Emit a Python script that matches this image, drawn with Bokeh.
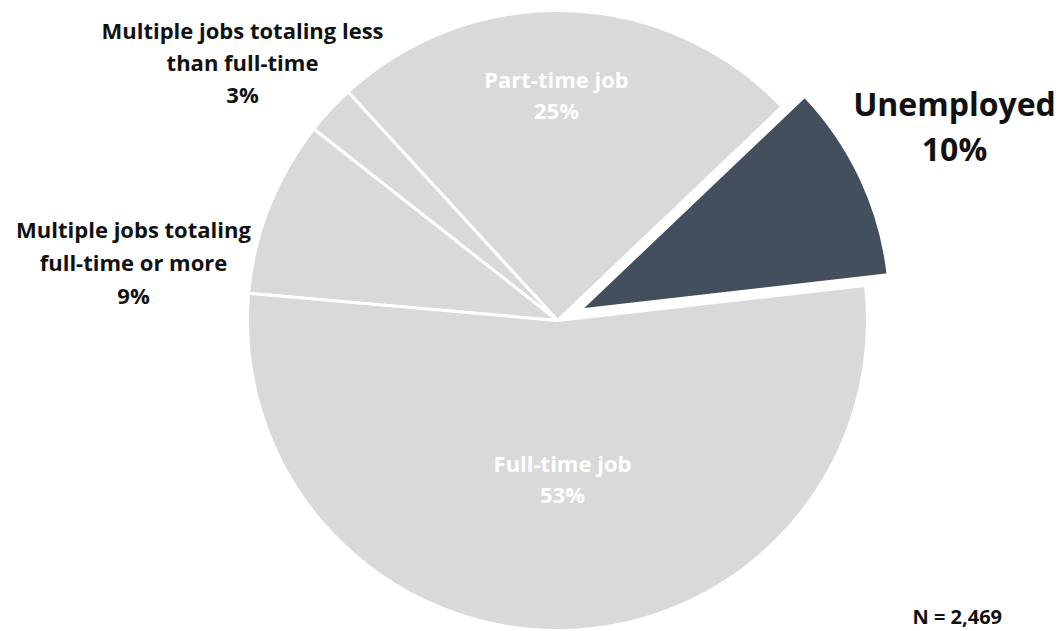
import math
from bokeh.plotting import figure
from bokeh.models import ColumnDataSource, Range1d
from bokeh.core.properties import value
from bokeh.embed import file_html
from bokeh.resources import INLINE

# ---- data ----
categories = ["Unemployed", "Part-time job", "Multiple jobs totaling less\nthan full-time",
              "Multiple jobs totaling\nfull-time or more", "Full-time job"]
shares = [10.3, 24.7, 2.6, 9.2, 53.2]
pct_labels = ["10%", "25%", "3%", "9%", "53%"]
note = "N = 2,469"

# ---- layout / style ----
W, H = 1058, 631
cx, cy_px, R = 557, 320, 310
start_deg = 6.5
explode = [25, 0, 0, 0, 0]
colors = ["#434F5D", "#D9D9D9", "#D9D9D9", "#D9D9D9", "#D9D9D9"]

def Y(py):
    return H - py

p = figure(width=W, height=H, output_backend="svg", toolbar_location=None,
           x_range=Range1d(0, W), y_range=Range1d(0, H), min_border=0)
p.axis.visible = False
p.grid.visible = False
p.outline_line_color = None
p.background_fill_color = "white"
p.border_fill_color = "white"

total = sum(shares)
xs, ys, sa, ea = [], [], [], []
a = math.radians(start_deg)
for s, ex in zip(shares, explode):
    span = 2 * math.pi * s / total
    mid = a + span / 2
    xs.append(cx + ex * math.cos(mid))
    ys.append(Y(cy_px) + ex * math.sin(mid))
    sa.append(a)
    ea.append(a + span)
    a += span

src = ColumnDataSource(dict(x=xs, y=ys, s=sa, e=ea, c=colors))
p.wedge(x="x", y="y", radius=R, start_angle="s", end_angle="e", source=src,
        fill_color="c", line_color="white", line_width=3)

# label placement: (x center, first line y in px, line spacing, font size, color)
placement = [
    (954, 103, 45, "32px", "#111111"),
    (556, 78, 31, "22px", "white"),
    (242, 29, 32, "22px", "#111111"),
    (133, 228, 33, "22px", "#111111"),
    (562, 462, 31, "22px", "white"),
]

tx, ty, tt, tf, tc = [], [], [], [], []
for cat, pct, (lx, ly, dl, fs, col) in zip(categories, pct_labels, placement):
    lines = cat.split("\n") + [pct]
    for i, ln in enumerate(lines):
        tx.append(lx)
        ty.append(Y(ly + i * dl))
        tt.append(ln)
        tf.append(fs)
        tc.append(col)

tsrc = ColumnDataSource(dict(x=tx, y=ty, t=tt, f=tf, c=tc))
p.text(x="x", y="y", text="t", source=tsrc, text_font=value("Open Sans"),
       text_font_style="bold", text_font_size="f", text_color="c",
       text_align="center", text_baseline="middle")

p.text(x=[912], y=[Y(616)], text=[note], text_font=value("Open Sans"),
       text_font_style="bold", text_font_size="20px", text_color="#111111",
       text_align="left", text_baseline="middle")

open("out.html", "w").write(file_html(p, INLINE))
